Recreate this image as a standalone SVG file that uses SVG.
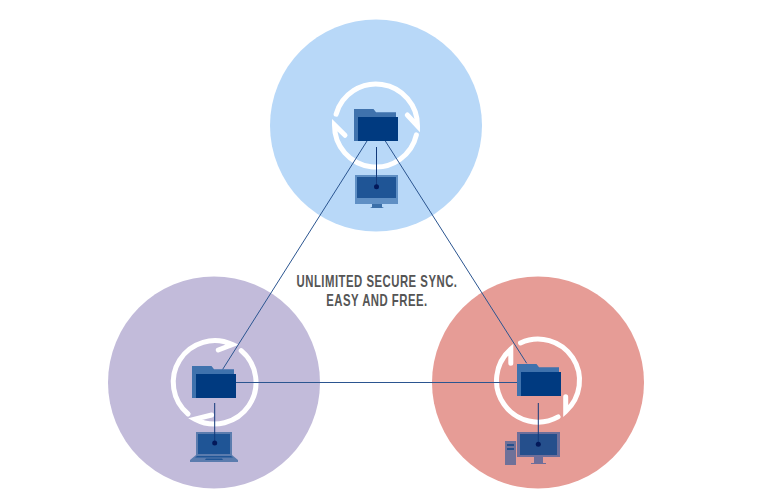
<svg xmlns="http://www.w3.org/2000/svg" width="757" height="504" viewBox="0 0 757 504">
  <style>
    .ring { fill: none; stroke: #fff; stroke-width: 5; stroke-linecap: round; stroke-linejoin: miter; }
    .link { fill: none; stroke: #2b5590; stroke-width: 1; }
    .drop { fill: none; stroke: #12397a; stroke-width: 1; }
    .dot { fill: #03195a; }
    .caption { font-family: "Liberation Sans", Arial, sans-serif; font-size: 16px; font-weight: 700; fill: #555; text-anchor: middle; letter-spacing: 0.7px; }
  </style>
  <defs>
    <g id="folder">
      <path fill="#3f72ad" d="M354 141V109H373.500L376 112.300H396V141Z"/>
      <rect fill="#003a80" x="358" y="117" width="40" height="24"/>
    </g>
  </defs>
  <rect width="757" height="504" fill="#fff"/>

  <g id="node-top">
    <circle cx="376" cy="125.500" r="106" fill="#b8d8f8"/>
    <path class="ring" d="M336.100 114.200A41.500 41.500 0 0 1 381.950 84.430A41.500 41.500 0 0 1 417.500 126L407.300 115"/>
    <path class="ring" d="M416.400 134.900A41.500 41.500 0 0 1 371.020 166.700A41.500 41.500 0 0 1 334.500 125L345 135.300"/>
    <use href="#folder"/>
    <rect x="355" y="175" width="43" height="29" fill="#5f8fc4"/>
    <rect x="357" y="177" width="39" height="21" fill="#1f5596"/>
    <path fill="#3b6fa8" d="M372 204H382V207L384 208H370L372 207Z"/>
    <path class="drop" d="M376.500 147V186.500"/>
    <circle class="dot" cx="376.500" cy="186.700" r="2.500"/>
  </g>

  <g id="node-left">
    <circle cx="214" cy="382.500" r="106" fill="#c2bbda"/>
    <path class="ring" d="M188.100 414A41.500 41.500 0 0 1 179.600 360.100A41.500 41.500 0 0 1 232.400 344.600L218.300 350"/>
    <path class="ring" d="M241.200 350.700A41.500 41.500 0 0 1 248.900 405.700A41.500 41.500 0 0 1 195.100 419.200L211.700 415"/>
    <use href="#folder" x="-162" y="257"/>
    <path fill="#5b7cae" d="M196 432H232V455L238 460V462H190V460L196 455Z"/>
    <rect x="198" y="434" width="32" height="20" fill="#1f5596"/>
    <path fill="#1f5596" d="M197 456H231L233 457.500H195ZM206 458.500H222L223 460H205Z"/>
    <path class="drop" d="M214.700 403V443"/>
    <circle class="dot" cx="214.700" cy="443" r="2.500"/>
  </g>

  <g id="node-right">
    <circle cx="538" cy="382.500" r="106" fill="#e69c96"/>
    <path class="ring" d="M558.100 416.900A41.500 41.500 0 0 1 504 404.300A41.500 41.500 0 0 1 510.800 349.200V363.300"/>
    <path class="ring" d="M520.500 342.900A41.500 41.500 0 0 1 572.650 357.600A41.500 41.500 0 0 1 565.700 411.400V396.700"/>
    <use href="#folder" x="163" y="255"/>
    <rect x="505" y="441" width="11" height="24" fill="#6f7199"/>
    <path fill="#254f8c" d="M507 444H514V446H507ZM507 448H514V450H507Z"/>
    <rect x="517" y="432" width="43" height="25" fill="#6d6e9a"/>
    <rect x="520" y="434" width="37" height="21" fill="#254f8c"/>
    <path fill="#6d6e9a" d="M534 457H543V463H546V464H531V463H534Z"/>
    <path class="drop" d="M538.300 403V444.300"/>
    <circle class="dot" cx="538.300" cy="444.300" r="2.500"/>
  </g>

  <g id="connectors">
    <path class="link" d="M367 141L222.700 369.300"/>
    <path class="link" d="M385.300 141L526.700 363.300"/>
    <path class="link" d="M236 382.500H517"/>
  </g>

  <g id="caption">
    <text class="caption" transform="translate(377 286.500) scale(0.71 1)">UNLIMITED SECURE SYNC.</text>
    <text class="caption" transform="translate(377 306) scale(0.71 1)">EASY AND FREE.</text>
  </g>
</svg>
